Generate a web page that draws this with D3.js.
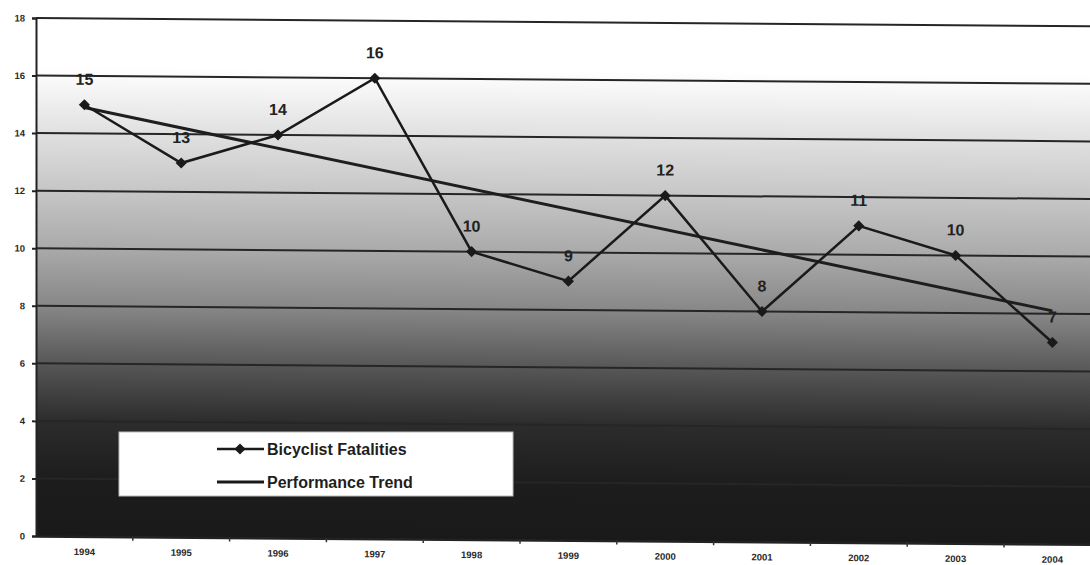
<!DOCTYPE html>
<html>
<head>
<meta charset="utf-8">
<script src="https://cdn.jsdelivr.net/npm/d3@7"></script>
<style>
  html, body { margin: 0; padding: 0; background: #fff; }
  svg { display: block; }
  .tick-label { font-family: "Liberation Sans", Arial, sans-serif; font-weight: bold; font-size: 9.5px; fill: #2a2a2a; }
  .data-label { font-family: "Liberation Sans", Arial, sans-serif; font-weight: bold; font-size: 16px; fill: #222; }
  .legend-text { font-family: "Liberation Sans", Arial, sans-serif; font-weight: bold; font-size: 16px; fill: #1e1e1e; }
</style>
</head>
<body>
<div id="chart"></div>
<script>
// chart values
const years = ["1994", "1995", "1996", "1997", "1998", "1999", "2000", "2001", "2002", "2003", "2004"];
const fatalities = [15, 13, 14, 16, 10, 9, 12, 8, 11, 10, 7];
const trendYears = ["1994", "2004"];
const trendValues = [14.9, 8.1];
const yTicks = [0, 2, 4, 6, 8, 10, 12, 14, 16, 18];
const legendLabels = ["Bicyclist Fatalities", "Performance Trend"];

function main() {
    const width = 1090;
    const height = 565;
    const plot = {left: 36, top: 18, bottom: 536, right: 36 + 11 * 96.8};

    const svg = d3.select("#chart")
        .append("svg")
        .attr("width", width)
        .attr("height", height);

    // the scanned chart sags a little to the right
    const g = svg.append("g")
        .attr("transform", `translate(${plot.left}, ${plot.top}) skewY(0.45) translate(${-plot.left}, ${-plot.top})`);

    const xScale = d3.scaleBand()
        .domain(years)
        .range([plot.left, plot.right]);

    const yScale = d3.scaleLinear()
        .domain([0, 18])
        .range([plot.bottom, plot.top]);

    // background gradient
    const defs = svg.append("defs");
    const grad = defs.append("linearGradient")
        .attr("id", "bg")
        .attr("gradientUnits", "userSpaceOnUse")
        .attr("x1", 0).attr("x2", 0)
        .attr("y1", plot.top).attr("y2", plot.bottom);
    const stops = [
        [18, "#ffffff"], [16.3, "#ffffff"], [14, "#e0e0e0"], [12, "#c6c6c6"],
        [10, "#aaaaaa"], [8, "#878787"], [6, "#575757"], [4, "#2c2c2c"],
        [2, "#1d1d1d"], [0, "#191919"]
    ];
    stops.forEach(function(s) {
        grad.append("stop")
            .attr("offset", (yScale(s[0]) - plot.top) / (plot.bottom - plot.top))
            .attr("stop-color", s[1]);
    });

    g.append("rect")
        .attr("x", plot.left)
        .attr("y", plot.top)
        .attr("width", plot.right - plot.left)
        .attr("height", plot.bottom - plot.top)
        .style("fill", "url(#bg)");

    // gridlines
    g.selectAll(".grid")
        .data(yTicks.filter(function(d) { return d > 0; }))
        .enter()
        .append("line")
        .attr("class", "grid")
        .attr("x1", plot.left)
        .attr("x2", plot.right)
        .attr("y1", function(d) { return yScale(d); })
        .attr("y2", function(d) { return yScale(d); })
        .style("stroke", "#262626")
        .style("stroke-width", 2);

    // y axis
    const yAxis = g.append("g")
        .attr("transform", `translate(${plot.left}, 0)`)
        .call(d3.axisLeft(yScale).tickValues(yTicks).tickSize(4).tickPadding(7).tickFormat(d3.format("d")));
    yAxis.select(".domain").style("stroke", "#222").style("stroke-width", 2);
    yAxis.selectAll(".tick line").style("stroke", "#222").style("stroke-width", 2);
    yAxis.selectAll(".tick text").attr("class", "tick-label").attr("fill", null);

    // x axis
    const xAxis = g.append("g")
        .attr("transform", `translate(0, ${plot.bottom})`)
        .call(d3.axisBottom(xScale).tickSize(0).tickPadding(12));
    xAxis.select(".domain").style("stroke", "#222").style("stroke-width", 2.5);
    xAxis.selectAll(".tick text").attr("class", "tick-label").attr("fill", null);
    // tick marks between categories
    xAxis.selectAll(".sep")
        .data(years.slice(1))
        .enter()
        .append("line")
        .attr("class", "sep")
        .attr("x1", function(d) { return xScale(d); })
        .attr("x2", function(d) { return xScale(d); })
        .attr("y1", 0)
        .attr("y2", 4)
        .style("stroke", "#333")
        .style("stroke-width", 1.5);

    const cx = function(d) { return xScale(d) + xScale.bandwidth() / 2; };

    // trend line
    g.append("path")
        .datum(trendYears.map(function(y, i) { return {year: y, value: trendValues[i]}; }))
        .attr("d", d3.line()
            .x(function(d) { return cx(d.year); })
            .y(function(d) { return yScale(d.value); }))
        .style("fill", "none")
        .style("stroke", "#1e1e1e")
        .style("stroke-width", 3);

    const series = years.map(function(y, i) { return {year: y, value: fatalities[i]}; });

    // fatalities line
    g.append("path")
        .datum(series)
        .attr("d", d3.line()
            .x(function(d) { return cx(d.year); })
            .y(function(d) { return yScale(d.value); }))
        .style("fill", "none")
        .style("stroke", "#1a1a1a")
        .style("stroke-width", 2.5);

    // square turned 45 degrees, like the original markers
    const diamond = d3.symbol().type(d3.symbolSquare).size(62);

    g.selectAll(".marker")
        .data(series)
        .enter()
        .append("path")
        .attr("class", "marker")
        .attr("d", diamond)
        .attr("transform", function(d) { return `translate(${cx(d.year)}, ${yScale(d.value)}) rotate(45)`; })
        .style("fill", "#1a1a1a");

    g.selectAll(".data-label")
        .data(series)
        .enter()
        .append("text")
        .attr("class", "data-label")
        .attr("x", function(d) { return cx(d.year); })
        .attr("y", function(d) { return yScale(d.value) - 20; })
        .attr("text-anchor", "middle")
        .text(function(d) { return d.value; });

    // legend
    const legend = svg.append("g");
    legend.append("rect")
        .attr("x", 119)
        .attr("y", 432)
        .attr("width", 394)
        .attr("height", 64)
        .style("fill", "#ffffff")
        .style("stroke", "#bbb")
        .style("stroke-width", 1);

    legendLabels.forEach(function(label, i) {
        const ly = 449 + i * 33;
        legend.append("line")
            .attr("x1", 217).attr("x2", 264)
            .attr("y1", ly).attr("y2", ly)
            .style("stroke", "#1a1a1a")
            .style("stroke-width", i === 0 ? 2.5 : 3);
        if (i === 0) {
            legend.append("path")
                .attr("d", diamond)
                .attr("transform", `translate(240, ${ly}) rotate(45)`)
                .style("fill", "#1a1a1a");
        }
        legend.append("text")
            .attr("class", "legend-text")
            .attr("x", 267)
            .attr("y", ly + 6)
            .text(label);
    });
}

main();
</script>
</body>
</html>
